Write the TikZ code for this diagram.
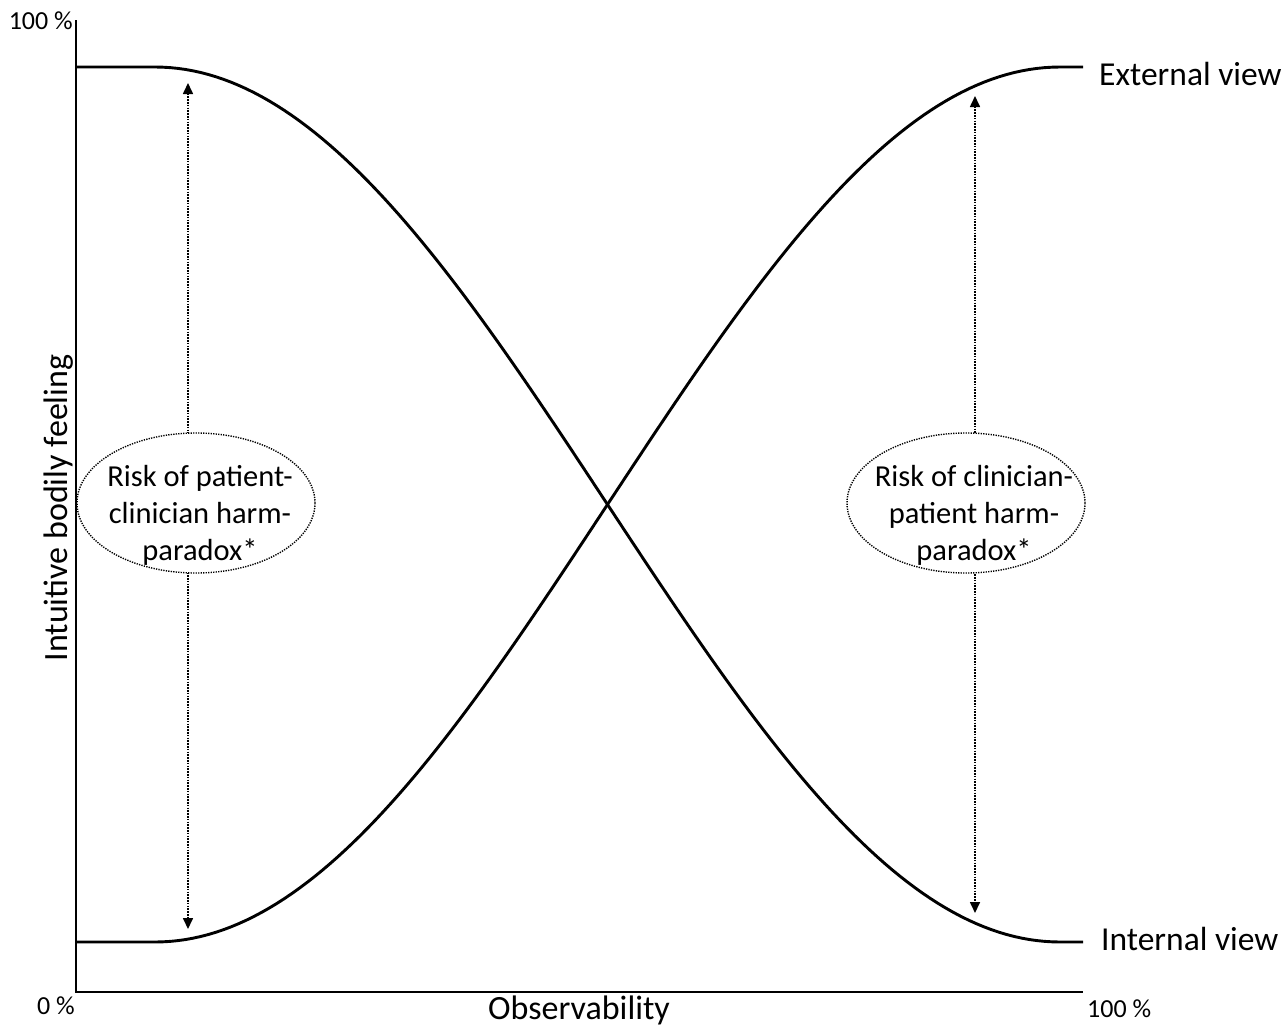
\documentclass[tikz,border=0pt]{standalone}
\usepackage{fontspec}
\setmainfont{Carlito}
\usetikzlibrary{arrows.meta,shapes.geometric}
\begin{document}
\begin{tikzpicture}[x=1pt,y=-1pt,
  axisline/.style={line width=2.4pt},
  curveline/.style={line width=2.9pt,line join=round},
  riskarrow/.style={line width=1.6pt,dash pattern=on 1.5pt off 1.3pt,
    {Triangle[length=11pt,width=10pt]}-{Triangle[length=11pt,width=10pt]}},
  riskellipse/.style={ellipse,draw,fill=white,line width=1.4pt,
    dash pattern=on 1.3pt off 1.2pt,minimum width=238pt,minimum height=140pt,inner sep=0pt},
  risktext/.style={align=center,inner sep=0pt,font=\fontsize{30.5}{37}\selectfont},
  axislabel/.style={inner sep=0pt,font=\fontsize{34}{40}\selectfont},
  pctlabel/.style={inner sep=0pt,font=\fontsize{26}{31}\selectfont},
  viewlabel/.style={inner sep=0pt,font=\fontsize{33.5}{40}\selectfont}]
\useasboundingbox (0,0) rectangle (1287,1034);
% axes
\coordinate (ytop) at (76,20);
\coordinate (origin) at (76,992);
\coordinate (xend) at (1083,992);
\draw[axisline] (ytop) -- (origin) -- (xend);
% curves
\coordinate (tl) at (76,67);
\coordinate (bl) at (76,942);
\coordinate (tr) at (1083,67);
\coordinate (br) at (1083,942);
\draw[curveline] (tl) -- (155,67) -- plot[domain=0:180,samples=120]
  ({155+5.027778*\x},{67+437.5*(1-cos(\x))}) -- (br);
\draw[curveline] (bl) -- (155,942) -- plot[domain=0:180,samples=120]
  ({155+5.027778*\x},{942-437.5*(1-cos(\x))}) -- (tr);
% arrows
\coordinate (la1) at (188,83);
\coordinate (la2) at (188,929);
\coordinate (ra1) at (975,96);
\coordinate (ra2) at (975,913);
\draw[riskarrow] (la1) -- (la2);
\draw[riskarrow] (ra1) -- (ra2);
% ellipses
\node[riskellipse] (le) at (196,503) {};
\node[riskellipse] (re) at (966,503) {};
\node[risktext] (lt) at (200,515) {Risk of patient-\\clinician harm-\\paradox*};
\node[risktext] (rt) at (974,515) {Risk of clinician-\\patient harm-\\paradox*};
% labels
\node[pctlabel,anchor=base east] (p100t) at (73,29) {100 \%};
\node[pctlabel,anchor=base east] (p0) at (75,1014) {0 \%};
\node[pctlabel,anchor=base west] (p100r) at (1087,1017) {100 \%};
\node[axislabel,anchor=base] (obs) at (579,1019) {Observability};
\node[axislabel,anchor=base,rotate=90] (ibf) at (67,508) {Intuitive bodily feeling};
\node[viewlabel,anchor=base west] (ext) at (1099,85) {External view};
\node[viewlabel,anchor=base west] (int) at (1101,950) {Internal view};
\end{tikzpicture}
\end{document}
